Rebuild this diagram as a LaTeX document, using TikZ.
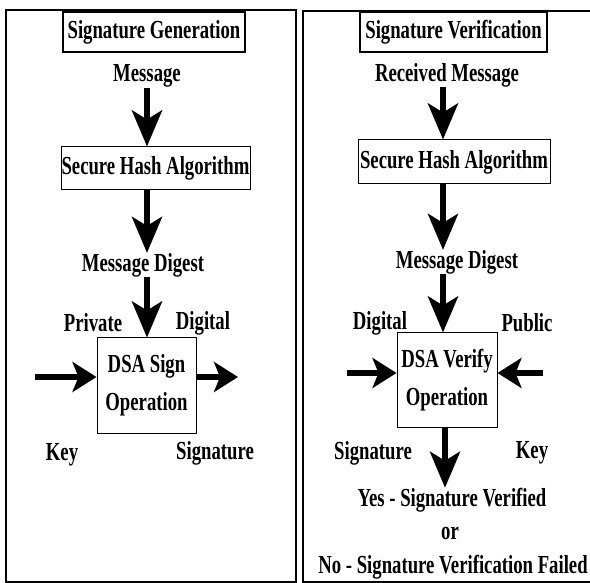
\documentclass[tikz,border=0pt]{standalone}
\usepackage{fontspec}
\setmainfont{Liberation Serif}[FakeStretch=0.72]
\usetikzlibrary{arrows.meta}

\begin{document}
\begin{tikzpicture}[x=1pt,y=-1pt,
  txt/.style={font=\fontsize{26}{38}\selectfont\bfseries},
  lbl/.style={txt, inner sep=0pt},
  box/.style={txt, draw, line width=1pt, inner sep=0pt, align=center},
  titlebox/.style={box, line width=2.5pt},
  panel/.style={draw, line width=2pt},
  varrow/.style={line width=6pt, -{Stealth[length=36pt,width=30pt,inset=9pt]}},
  harrow/.style={line width=6pt, -{Stealth[length=24pt,width=30pt,inset=6pt]}}]
\useasboundingbox (0,0) rectangle (590,583);
\clip (0,0) rectangle (590,583);

% panels
\draw[panel] (6,10) rectangle (296,582);
\draw[panel] (303,11) rectangle (600,582);

% ---- signature generation ----
\coordinate (colL) at (147,0);
\node[titlebox, minimum width=182pt, minimum height=40pt] (genT) at (154,32) {Signature Generation};
\node[lbl] (genMsg) at (147,76) {Message};
\node[box, minimum width=189pt, minimum height=43pt] (genSHA) at (155.5,168.5) {Secure Hash Algorithm};
\node[lbl] (genMD) at (143,265) {Message Digest};
\node[box, minimum width=99pt, minimum height=95pt] (sign) at (146.5,385.5) {DSA Sign\\Operation};
\node[lbl] (privLbl) at (93,323) {Private};
\node[lbl] (digLbl) at (203,323) {Digital};
\node[lbl] (keyLbl) at (62,455) {Key};
\node[lbl] (sigLbl) at (215,453) {Signature};

\draw[varrow] (colL |- genMsg.south) -- (colL |- genSHA.north);
\draw[varrow] (colL |- genSHA.south) -- (colL |- genMD.north);
\draw[varrow] (colL |- genMD.south) -- (colL |- sign.north);
\coordinate (keyIn) at (35,377);
\coordinate (sigOut) at (238,377);
\draw[harrow] (keyIn) -- (keyIn -| sign.west);
\draw[harrow] (sigOut -| sign.east) -- (sigOut);

% ---- signature verification ----
\coordinate (colR) at (443,0);
\node[titlebox, minimum width=187pt, minimum height=40pt] (verT) at (453.5,32) {Signature Verification};
\node[lbl] (rcvMsg) at (447,75) {Received Message};
\node[box, minimum width=192pt, minimum height=44pt] (verSHA) at (454,162) {Secure Hash Algorithm};
\node[lbl] (verMD) at (457,262) {Message Digest};
\node[box, minimum width=100pt, minimum height=94pt] (verify) at (447,380) {DSA Verify\\Operation};
\node[lbl] (vDigLbl) at (380,323) {Digital};
\node[lbl] (pubLbl) at (527,323) {Public};
\node[lbl] (vSigLbl) at (373,453) {Signature};
\node[lbl] (vKeyLbl) at (532,453) {Key};
\node[lbl] (res1) at (452,500) {Yes - Signature Verified};
\node[lbl] (res2) at (450,533) {or};
\node[lbl] (res3) at (453,567) {No - Signature Verification Failed};

\draw[varrow] (colR |- rcvMsg.south) -- (colR |- verSHA.north);
\draw[varrow] (colR |- verSHA.south) -- (colR |- verMD.north);
\draw[varrow] (colR |- verMD.south) -- (colR |- verify.north);
\draw[varrow] (verify.south -| 445,0) -- (445,0 |- res1.north);
\coordinate (sigIn) at (347,373);
\coordinate (pubIn) at (543,373);
\draw[harrow] (sigIn) -- (sigIn -| verify.west);
\draw[harrow] (pubIn) -- (pubIn -| verify.east);
\end{tikzpicture}
\end{document}
